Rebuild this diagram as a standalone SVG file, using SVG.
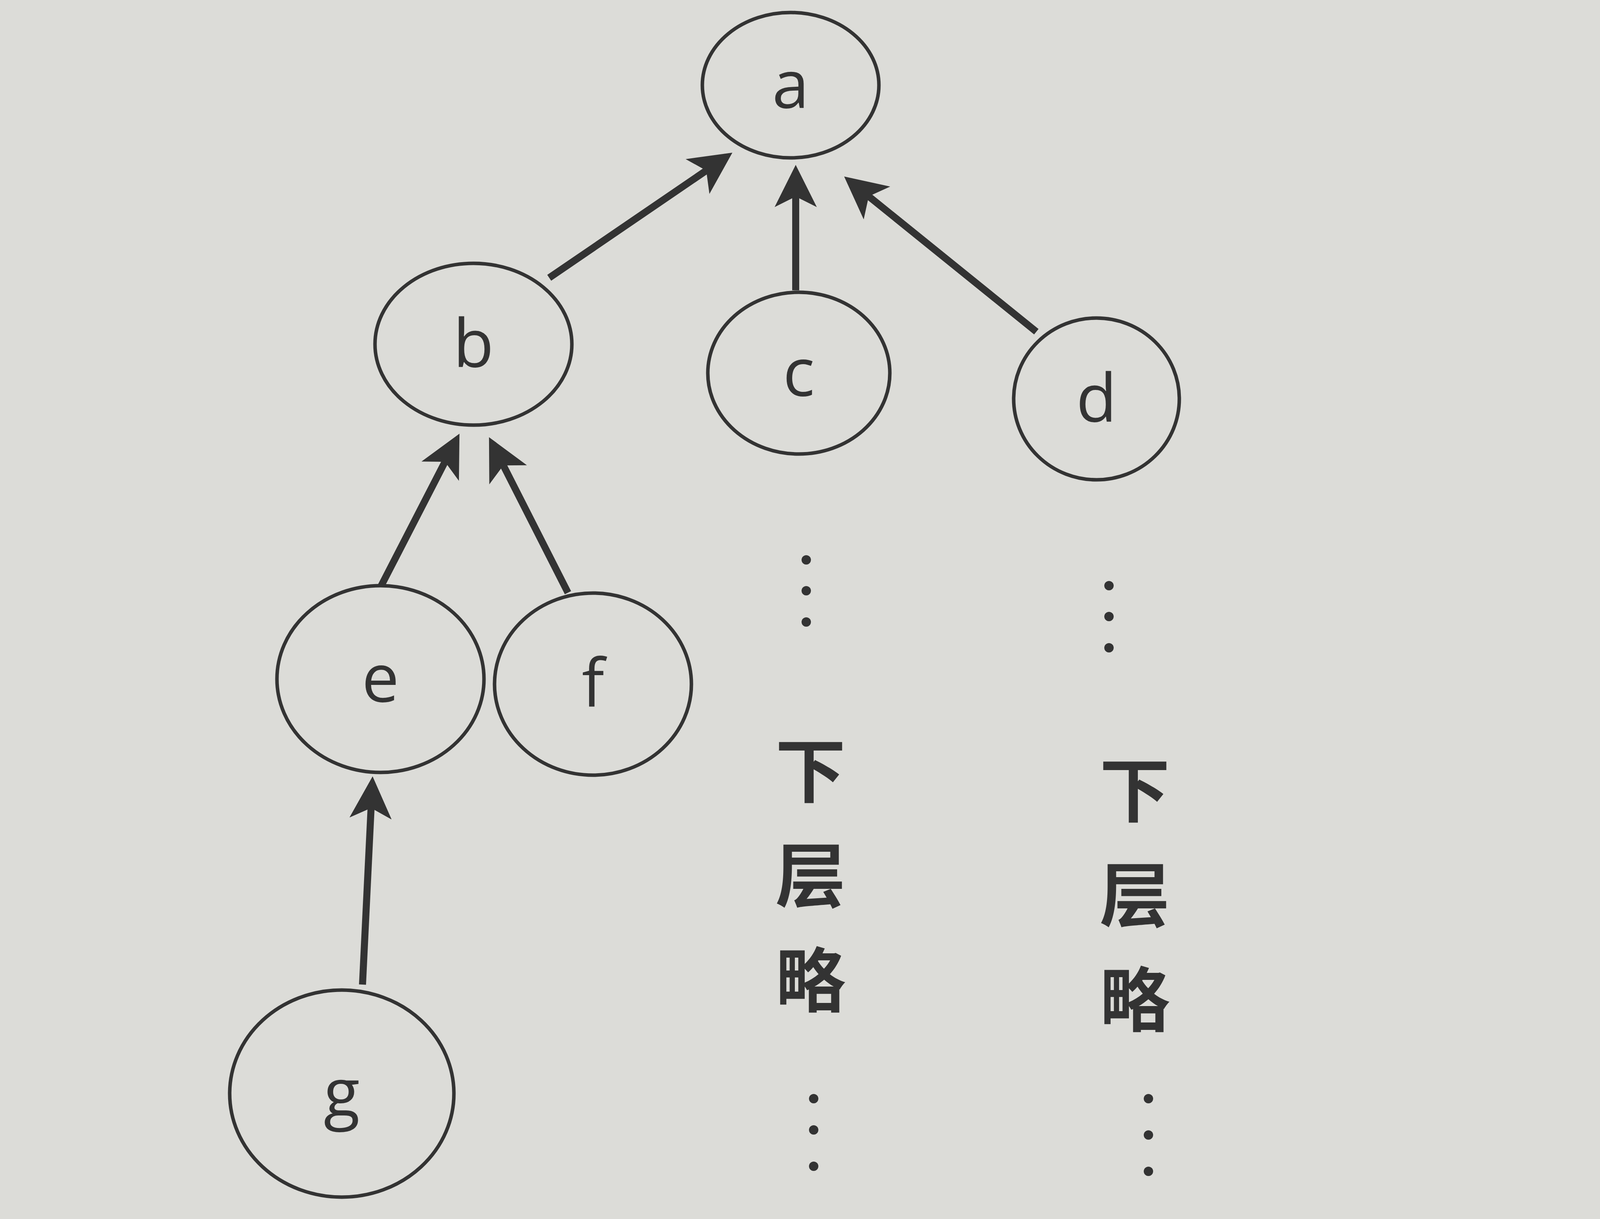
<svg xmlns="http://www.w3.org/2000/svg" width="4160" height="3120" viewBox="0 0 4160 3120">
<style>
.n{fill:none;stroke:#333;stroke-width:9}
.t{font-family:"Open Sans","DejaVu Sans",sans-serif;font-size:170px;fill:#333;text-anchor:middle;dominant-baseline:central}
.c{font-family:"Noto Sans CJK SC",sans-serif;font-size:180px;font-weight:bold;fill:#333;text-anchor:middle;dominant-baseline:central}
.e{stroke:#333;stroke-width:18;fill:none;marker-end:url(#ah)}
.d{fill:#333}
</style>
<defs><marker id="ah" markerWidth="6" markerHeight="6" refX="5" refY="3" orient="auto" markerUnits="strokeWidth"><path d="M0,0 L6,3 L0,6 L1.5,3 z" fill="#333"/></marker></defs>
<rect width="4160" height="3120" fill="#dcdcd8"/>
<g id="connectors">
<line class="e" x1="1406" y1="711" x2="1860" y2="401"/>
<line class="e" x1="2037" y1="743" x2="2037" y2="440"/>
<line class="e" x1="2653" y1="849" x2="2175" y2="463"/>
<line class="e" x1="976" y1="1499" x2="1168" y2="1126"/>
<line class="e" x1="1454" y1="1517" x2="1260" y2="1135"/>
<line class="e" x1="928" y1="2520" x2="953" y2="2005"/>
</g>
<g id="a"><ellipse class="n" cx="2024" cy="218" rx="226" ry="186"/><text class="t" x="2024" y="210">a</text></g>
<g id="b"><ellipse class="n" cx="1212" cy="881" rx="252" ry="207"/><text class="t" x="1212" y="873">b</text></g>
<g id="c"><ellipse class="n" cx="2045" cy="955" rx="233" ry="207"/><text class="t" x="2045" y="947">c</text></g>
<g id="d"><ellipse class="n" cx="2807" cy="1021" rx="212" ry="207"/><text class="t" x="2807" y="1013">d</text></g>
<g id="e"><ellipse class="n" cx="974" cy="1738" rx="265" ry="239"/><text class="t" x="974" y="1730">e</text></g>
<g id="f"><ellipse class="n" cx="1518" cy="1751" rx="252" ry="233"/><text class="t" x="1518" y="1743">f</text></g>
<g id="g"><ellipse class="n" cx="875" cy="2799" rx="287" ry="265"/><text class="t" x="875" y="2791">g</text></g>
<g id="colc">
<circle class="d" cx="2064" cy="1433" r="12"/><circle class="d" cx="2064" cy="1512" r="12"/><circle class="d" cx="2064" cy="1592" r="12"/>
<text class="c" x="2075" y="1960">下</text><text class="c" x="2075" y="2228">层</text><text class="c" x="2075" y="2496">略</text>
<circle class="d" cx="2083" cy="2812" r="12"/><circle class="d" cx="2083" cy="2892" r="12"/><circle class="d" cx="2083" cy="2985" r="12"/>
</g>
<g id="cold">
<circle class="d" cx="2839" cy="1499" r="12"/><circle class="d" cx="2839" cy="1578" r="12"/><circle class="d" cx="2839" cy="1658" r="12"/>
<text class="c" x="2905" y="2010">下</text><text class="c" x="2905" y="2278">层</text><text class="c" x="2905" y="2546">略</text>
<circle class="d" cx="2940" cy="2812" r="12"/><circle class="d" cx="2940" cy="2905" r="12"/><circle class="d" cx="2940" cy="2998" r="12"/>
</g>
</svg>
